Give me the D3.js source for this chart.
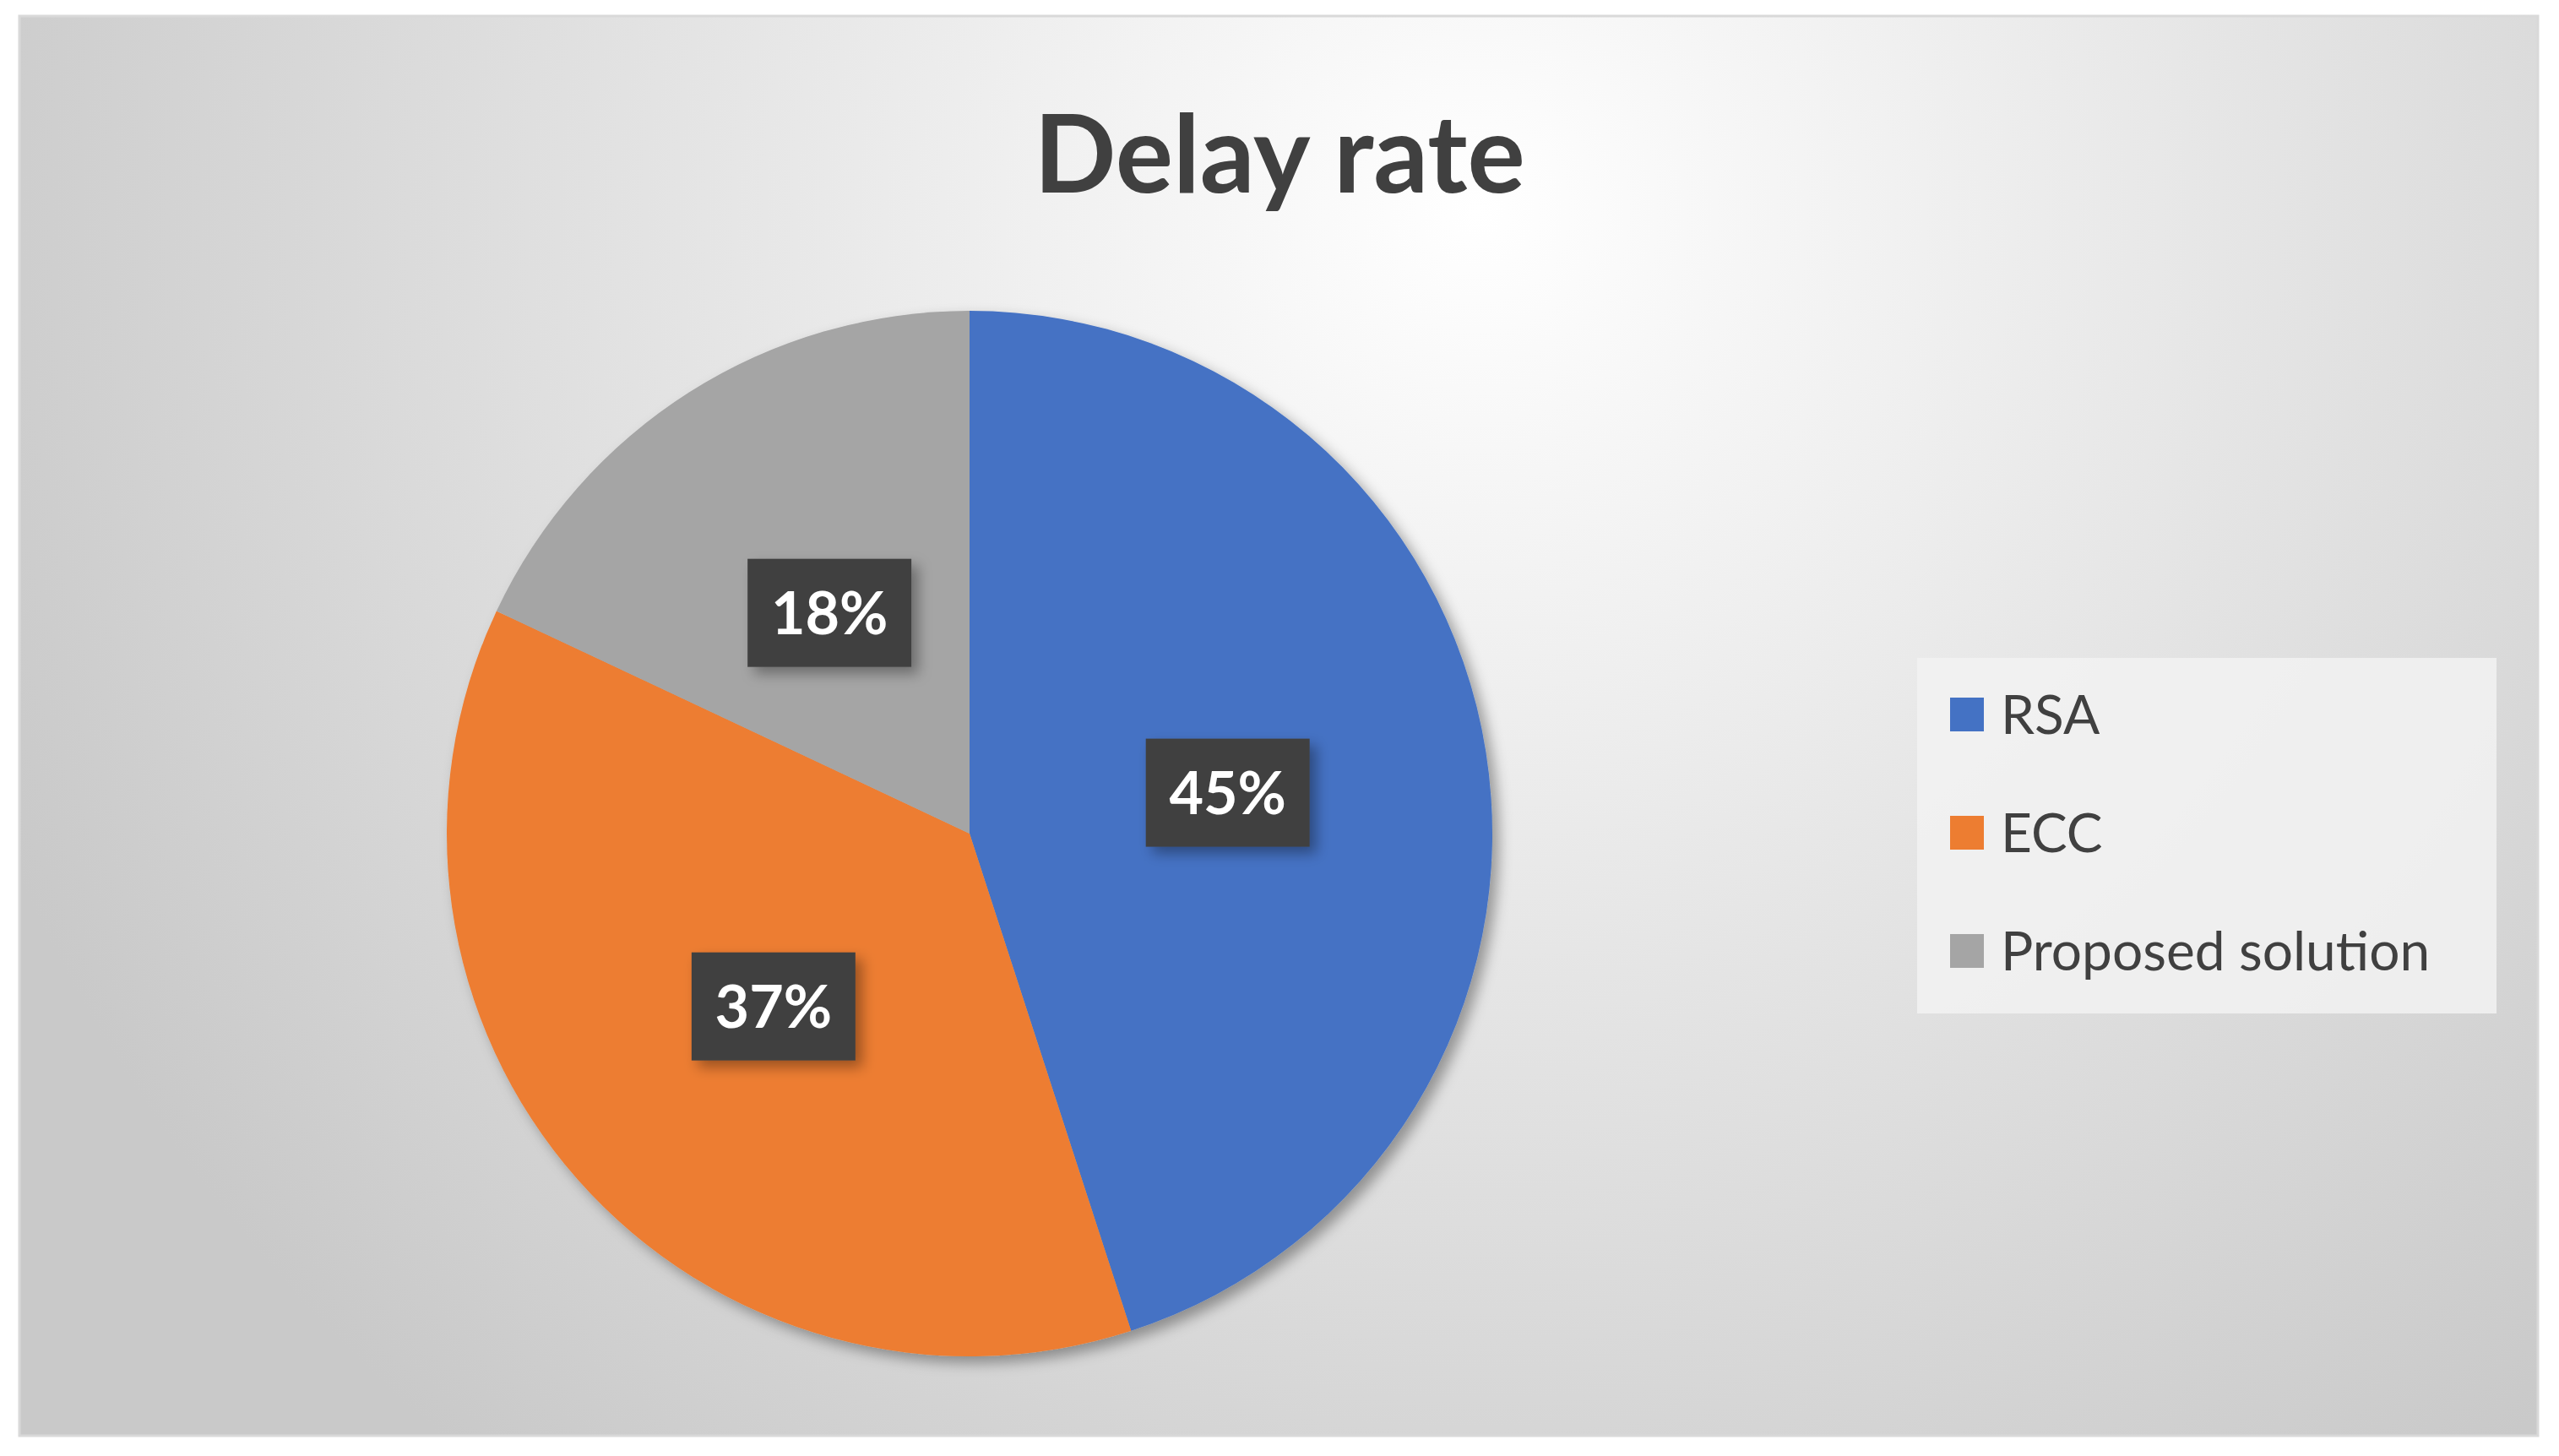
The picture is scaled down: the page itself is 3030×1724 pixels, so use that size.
<!DOCTYPE html>
<html>
<head>
<meta charset="utf-8">
<script src="https://cdn.jsdelivr.net/npm/d3@7"></script>
<style>
  body { margin: 0; background: #fff; }
  svg { display: block; }
</style>
</head>
<body>
<div id="chart-container"></div>
<script>
const categories = ["RSA", "ECC", "Proposed solution"];
const values = [45, 37, 18];
const labels = ["45%", "37%", "18%"];
const colors = ["#4472C4", "#ED7D31", "#A5A5A5"];
const title = "Delay rate";

const width = 3030, height = 1724;
const font = "Lato, 'Open Sans', sans-serif";

const svg = d3.select("#chart-container").append("svg")
    .attr("width", width).attr("height", height);

const defs = svg.append("defs");
const grad = defs.append("radialGradient").attr("id", "bg")
    .attr("gradientUnits", "userSpaceOnUse")
    .attr("cx", 1750).attr("cy", 250).attr("r", 1900);
grad.append("stop").attr("offset", "0").attr("stop-color", "#ffffff");
grad.append("stop").attr("offset", "1").attr("stop-color", "#c9c9c9");

const shadow = defs.append("filter").attr("id", "shadow")
    .attr("x", "-20%").attr("y", "-20%").attr("width", "140%").attr("height", "140%");
shadow.append("feDropShadow").attr("dx", 8).attr("dy", 8).attr("stdDeviation", 8)
    .attr("flood-color", "#000").attr("flood-opacity", 0.35);

// frame + background
svg.append("rect")
    .attr("x", 23).attr("y", 19).attr("width", 2982).attr("height", 1681)
    .attr("fill", "url(#bg)").attr("stroke", "#d9d9d9").attr("stroke-width", 3);

svg.append("text")
    .attr("x", 1515).attr("y", 228)
    .attr("text-anchor", "middle")
    .attr("font-family", font).attr("font-weight", "bold")
    .attr("font-size", 128).attr("fill", "#404040")
    .text(title);

// pie
const cx = 1148, cy = 987, r = 619;
const pie = d3.pie().sort(null).value(d => d);
const arc = d3.arc().innerRadius(0).outerRadius(r);
const labelArc = d3.arc().innerRadius(r * 0.5).outerRadius(r * 0.5);
const arcs = pie(values);

const g = svg.append("g").attr("transform", `translate(${cx},${cy})`);
g.append("g").attr("filter", "url(#shadow)")
    .selectAll("path").data(arcs).join("path")
    .attr("d", arc)
    .attr("fill", (d, i) => colors[i]);

const lab = g.selectAll("g.label").data(arcs).join("g")
    .attr("class", "label")
    .attr("transform", d => `translate(${labelArc.centroid(d)})`);
lab.append("rect")
    .attr("x", -97).attr("y", -64).attr("width", 194).attr("height", 128)
    .attr("fill", "#404040").attr("filter", "url(#shadow)");
lab.append("text")
    .attr("text-anchor", "middle").attr("dy", "0.36em")
    .attr("font-family", font).attr("font-weight", "bold")
    .attr("font-size", 70).attr("fill", "#ffffff")
    .text((d, i) => labels[i]);

// legend
const legend = svg.append("g");
legend.append("rect")
    .attr("x", 2270).attr("y", 779).attr("width", 686).attr("height", 421)
    .attr("fill", "#f2f2f2").attr("opacity", 0.85);
const y = d3.scalePoint().domain(categories).range([846, 1126]);
const item = legend.selectAll("g").data(categories).join("g")
    .attr("transform", d => `translate(2309,${y(d)})`);
item.append("rect")
    .attr("x", 0).attr("y", -20).attr("width", 40).attr("height", 40)
    .attr("fill", (d, i) => colors[i]);
item.append("text")
    .attr("x", 60).attr("dy", "0.36em")
    .attr("font-family", font).attr("font-size", 64).attr("fill", "#404040")
    .text(d => d);
</script>
</body>
</html>
